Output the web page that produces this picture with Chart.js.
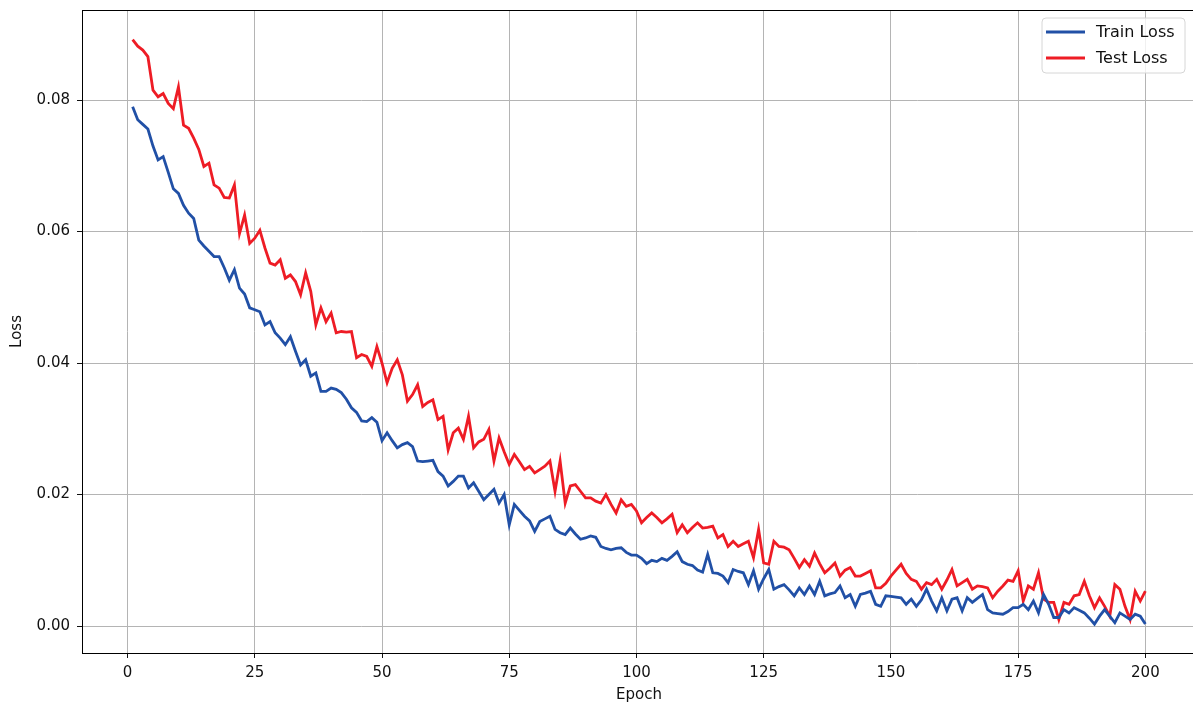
<!DOCTYPE html>
<html>
<head>
<meta charset="utf-8">
<script src="https://cdn.jsdelivr.net/npm/chart.js@4.4.1/dist/chart.umd.min.js"></script>
<style>
  html, body { margin: 0; padding: 0; background: #fff; overflow: hidden; }
  canvas { display: block; }
</style>
</head>
<body>
<canvas id="c" width="1200" height="707"></canvas>
<script>
const trainLoss = [
  0.0790,0.0770,0.0763,0.0756,0.0730,0.0709,0.0714,0.0690,0.0665,0.0658,
  0.0640,0.0628,0.0620,0.0587,0.0578,0.0570,0.0562,0.0562,0.0545,0.0526,
  0.0542,0.0514,0.0505,0.0484,0.0481,0.0478,0.0458,0.0463,0.0446,0.0438,
  0.0428,0.0440,0.0418,0.0397,0.0405,0.0380,0.0385,0.0357,0.0357,0.0362,
  0.0360,0.0355,0.0345,0.0332,0.0325,0.0312,0.0311,0.0317,0.0310,0.0282,
  0.0294,0.0282,0.0271,0.0276,0.0279,0.0273,0.0251,0.0250,0.0251,0.0252,
  0.0235,0.0228,0.0213,0.0220,0.0228,0.0228,0.0210,0.0218,0.0205,0.0192,
  0.0200,0.0208,0.0187,0.0200,0.0154,0.0185,0.0176,0.0167,0.0160,0.0144,
  0.0159,0.0163,0.0167,0.0147,0.0142,0.0139,0.0149,0.0140,0.0132,0.0134,
  0.0137,0.0135,0.0121,0.0118,0.0116,0.0118,0.0119,0.0112,0.0108,0.0108,
  0.0103,0.0095,0.0100,0.0098,0.0103,0.0100,0.0106,0.0113,0.0098,0.0094,
  0.0092,0.0085,0.0082,0.0109,0.0081,0.0080,0.0076,0.0066,0.0086,0.0083,
  0.0081,0.0063,0.0084,0.0056,0.0072,0.0086,0.0056,0.0060,0.0063,0.0055,
  0.0046,0.0058,0.0048,0.0061,0.0048,0.0068,0.0046,0.0049,0.0051,0.0061,
  0.0043,0.0048,0.0030,0.0048,0.0050,0.0053,0.0033,0.0030,0.0046,0.0045,
  0.0044,0.0043,0.0033,0.0041,0.0030,0.0040,0.0056,0.0038,0.0023,0.0043,
  0.0023,0.0041,0.0043,0.0023,0.0043,0.0036,0.0042,0.0048,0.0025,0.0020,
  0.0019,0.0018,0.0022,0.0028,0.0028,0.0033,0.0025,0.0038,0.0020,0.0048,
  0.0033,0.0013,0.0013,0.0025,0.0020,0.0028,0.0024,0.0020,0.0012,0.0003,
  0.0015,0.0025,0.0015,0.0005,0.0020,0.0015,0.0010,0.0018,0.0015,0.0003
];
const testLoss = [
  0.0892,0.0882,0.0876,0.0866,0.0815,0.0805,0.0810,0.0795,0.0787,0.0820,
  0.0762,0.0757,0.0742,0.0725,0.0699,0.0704,0.0671,0.0666,0.0652,0.0651,
  0.0671,0.0597,0.0625,0.0582,0.0590,0.0602,0.0575,0.0552,0.0549,0.0557,
  0.0529,0.0534,0.0524,0.0504,0.0537,0.0509,0.0458,0.0484,0.0463,0.0476,
  0.0446,0.0448,0.0447,0.0448,0.0408,0.0413,0.0410,0.0395,0.0425,0.0400,
  0.0370,0.0392,0.0405,0.0382,0.0342,0.0352,0.0367,0.0334,0.0340,0.0344,
  0.0314,0.0319,0.0268,0.0294,0.0301,0.0284,0.0319,0.0271,0.0280,0.0284,
  0.0299,0.0251,0.0286,0.0265,0.0246,0.0261,0.0250,0.0238,0.0243,0.0233,
  0.0238,0.0243,0.0251,0.0205,0.0251,0.0187,0.0213,0.0215,0.0205,0.0195,
  0.0195,0.0190,0.0187,0.0200,0.0185,0.0172,0.0192,0.0182,0.0185,0.0175,
  0.0157,0.0165,0.0172,0.0165,0.0157,0.0163,0.0170,0.0142,0.0154,0.0142,
  0.0150,0.0157,0.0149,0.0150,0.0152,0.0134,0.0139,0.0121,0.0129,0.0121,
  0.0125,0.0129,0.0104,0.0147,0.0096,0.0094,0.0129,0.0121,0.0120,0.0116,
  0.0103,0.0089,0.0101,0.0091,0.0111,0.0095,0.0081,0.0088,0.0096,0.0076,
  0.0085,0.0089,0.0076,0.0076,0.0080,0.0084,0.0058,0.0058,0.0065,0.0076,
  0.0085,0.0094,0.0080,0.0071,0.0068,0.0056,0.0066,0.0063,0.0071,0.0056,
  0.0070,0.0086,0.0061,0.0066,0.0071,0.0056,0.0061,0.0060,0.0058,0.0043,
  0.0053,0.0061,0.0070,0.0068,0.0084,0.0038,0.0061,0.0056,0.0081,0.0041,
  0.0036,0.0036,0.0010,0.0036,0.0033,0.0046,0.0048,0.0068,0.0046,0.0028,
  0.0043,0.0030,0.0015,0.0063,0.0056,0.0030,0.0010,0.0053,0.0038,0.0053
];
const epochs = Array.from({length: trainLoss.length}, (_, i) => i + 1);
const xTicks = [0, 25, 50, 75, 100, 125, 150, 175, 200];
const yTicks = [0, 0.02, 0.04, 0.06, 0.08];
const seriesNames = ['Train Loss', 'Test Loss'];

const FONT = 'DejaVu Sans';

const bgPlugin = {
  id: 'bg',
  beforeDraw(chart) {
    const ctx = chart.ctx;
    ctx.save();
    ctx.fillStyle = '#fff';
    ctx.fillRect(0, 0, chart.width, chart.height);
    ctx.restore();
  }
};

const framePlugin = {
  id: 'frame',
  afterDraw(chart) {
    const {ctx, chartArea: a} = chart;
    ctx.save();
    ctx.strokeStyle = '#000';
    ctx.lineWidth = 1;
    ctx.strokeRect(Math.round(a.left) + 0.5, Math.round(a.top) + 0.5,
                   Math.round(a.right - a.left), Math.round(a.bottom - a.top));
    ctx.restore();
  }
};

const legendPlugin = {
  id: 'mplLegend',
  afterDraw(chart) {
    const ctx = chart.ctx;
    const x = 1042, y = 18, w = 143, h = 55, r = 4;
    ctx.save();
    ctx.beginPath();
    ctx.moveTo(x + r, y);
    ctx.arcTo(x + w, y, x + w, y + h, r);
    ctx.arcTo(x + w, y + h, x, y + h, r);
    ctx.arcTo(x, y + h, x, y, r);
    ctx.arcTo(x, y, x + w, y, r);
    ctx.closePath();
    ctx.fillStyle = 'rgba(255,255,255,0.8)';
    ctx.fill();
    ctx.strokeStyle = '#d6d6d6';
    ctx.lineWidth = 1;
    ctx.stroke();
    chart.data.datasets.forEach((ds, i) => {
      const ly = 32 + i * 26;
      ctx.beginPath();
      ctx.moveTo(1046, ly);
      ctx.lineTo(1085, ly);
      ctx.strokeStyle = ds.borderColor;
      ctx.lineWidth = 3;
      ctx.stroke();
      ctx.fillStyle = '#111';
      ctx.font = '16px "' + FONT + '"';
      ctx.textBaseline = 'middle';
      ctx.textAlign = 'left';
      ctx.fillText(ds.label, 1096, ly + 1);
    });
    ctx.restore();
  }
};

new Chart(document.getElementById('c'), {
  type: 'line',
  data: {
    datasets: [
      {
        label: seriesNames[0],
        data: epochs.map((e, i) => ({x: e, y: trainLoss[i]})),
        borderColor: '#2150a6',
        borderWidth: 2.8,
        pointRadius: 0,
        tension: 0,
        fill: false
      },
      {
        label: seriesNames[1],
        data: epochs.map((e, i) => ({x: e, y: testLoss[i]})),
        borderColor: '#ee1c25',
        borderWidth: 2.8,
        pointRadius: 0,
        tension: 0,
        fill: false
      }
    ]
  },
  options: {
    responsive: false,
    animation: false,
    devicePixelRatio: 1,
    layout: { padding: { left: 0, right: 4, top: 10, bottom: 0 } },
    plugins: {
      legend: { display: false },
      tooltip: { enabled: false }
    },
    scales: {
      x: {
        type: 'linear',
        min: -8.95,
        max: 209.95,
        afterBuildTicks(scale) { scale.ticks = xTicks.map(v => ({value: v})); },
        afterFit(scale) { scale.height = 54; scale.paddingLeft = 0; scale.paddingRight = 0; },
        ticks: {
          color: '#111',
          font: { family: FONT, size: 15 },
          padding: 6,
          maxRotation: 0,
          callback: v => String(v)
        },
        grid: { color: '#b4b4b4', lineWidth: 1, tickColor: '#111', tickLength: 5, drawTicks: true },
        border: { display: true, color: '#000', width: 1 },
        title: { display: true, text: 'Epoch', color: '#111', font: { family: FONT, size: 15 }, padding: { top: 0, bottom: 3 } }
      },
      y: {
        type: 'linear',
        min: -0.0041,
        max: 0.0937,
        afterBuildTicks(scale) { scale.ticks = yTicks.map(v => ({value: v})); },
        afterFit(scale) { scale.width = 82; scale.paddingTop = 0; scale.paddingBottom = 0; },
        ticks: {
          color: '#111',
          font: { family: FONT, size: 15 },
          padding: 7,
          callback: v => Number(v).toFixed(2)
        },
        grid: { color: '#b4b4b4', lineWidth: 1, tickColor: '#111', tickLength: 5, drawTicks: true },
        border: { display: true, color: '#000', width: 1 },
        title: { display: true, text: 'Loss', color: '#111', font: { family: FONT, size: 15 }, padding: { top: 8, bottom: 0 } }
      }
    }
  },
  plugins: [bgPlugin, framePlugin, legendPlugin]
});
</script>
</body>
</html>
